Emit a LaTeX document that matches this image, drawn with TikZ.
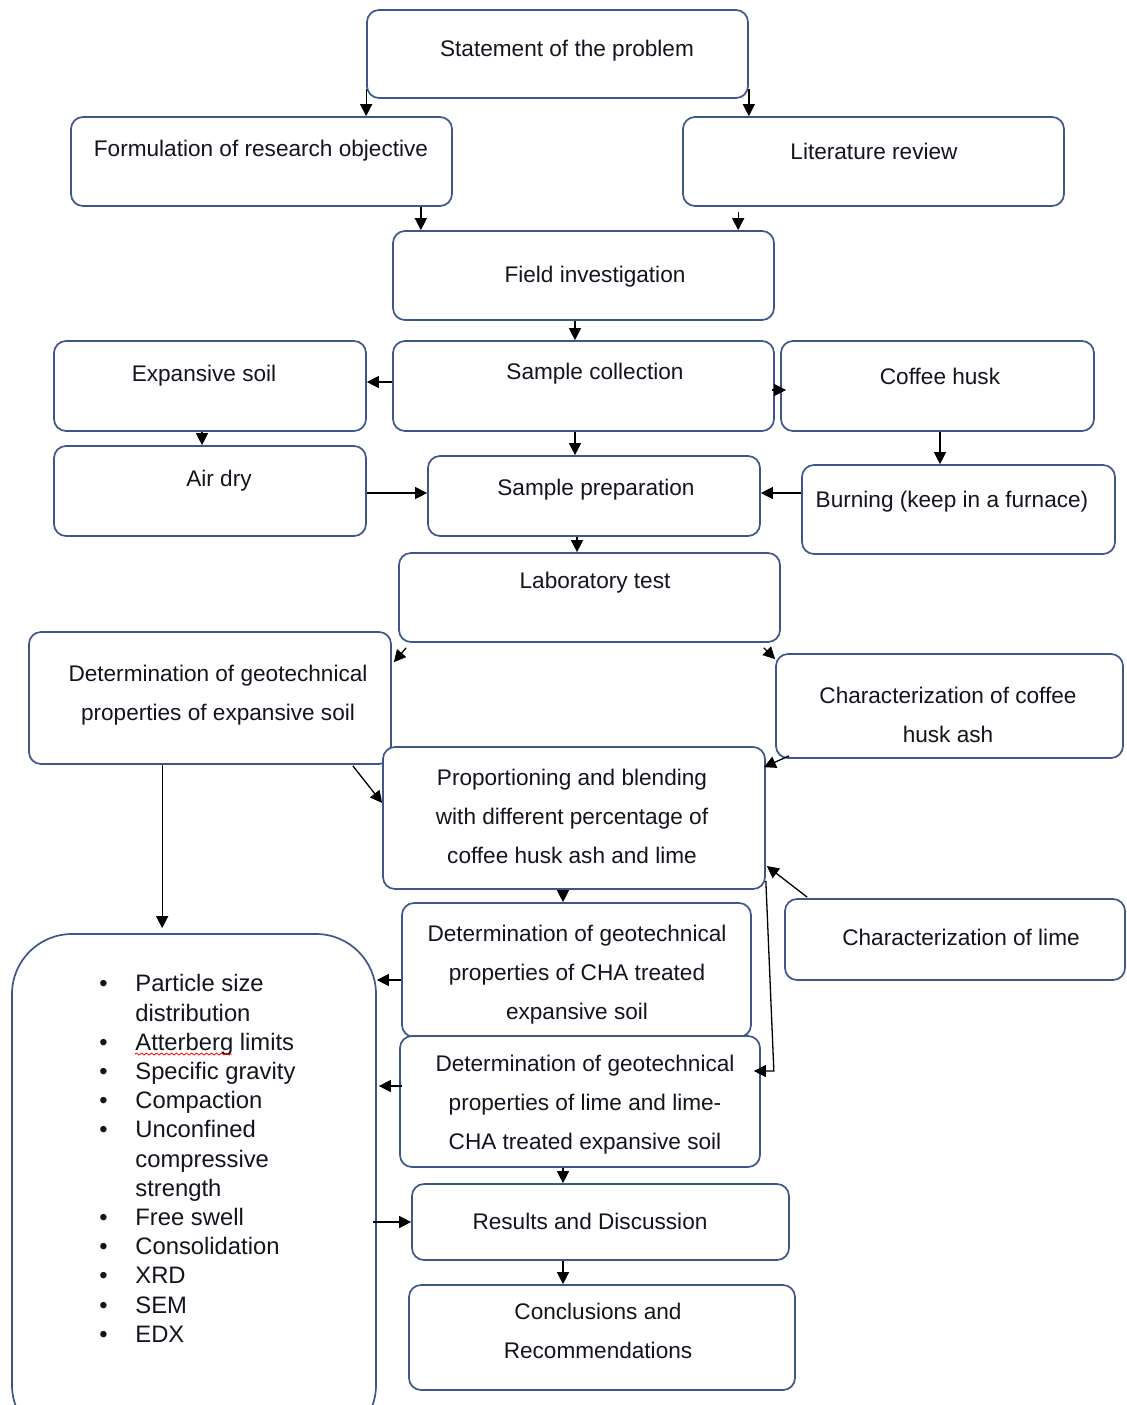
\documentclass[tikz,border=0pt]{standalone}
\usepackage{fontspec}
\setmainfont{Liberation Sans}
\usetikzlibrary{arrows.meta,calc,fit,decorations.pathmorphing}
\definecolor{boxc}{RGB}{62,86,138}
\definecolor{txtc}{RGB}{20,20,30}
\begin{document}
\begin{tikzpicture}[x=0.5pt,y=-0.5pt,
  box/.style={draw=boxc, line width=0.85pt, rounded corners=6pt, fill=white, inner sep=0pt},
  txt/.style={font=\fontsize{11.3}{19.5}\selectfont, text=txtc, align=center, inner sep=0pt},
  arr/.style={draw=black, line width=0.65pt, -{Triangle[length=6pt,width=6pt]}}]
\useasboundingbox (0,0) rectangle (1127,1405);
\clip (0,0) rectangle (1127,1405);

% boxes and texts
\node[box, fit={(367,10)(748,98)}] (stmt) {};
\node[txt] (tstmt) at (567,51) {Statement of the problem};
\node[box, fit={(71,117)(452,206)}] (form) {};
\node[txt] (tform) at (261,151) {Formulation of research objective};
\node[box, fit={(683,117)(1064,206)}] (lit) {};
\node[txt] (tlit) at (874,151) {Literature review};
\node[box, fit={(393,231)(774,320)}] (field) {};
\node[txt] (tfield) at (595,277) {Field investigation};
\node[box, fit={(54,341)(366,431)}] (exp) {};
\node[txt] (texp) at (204,376) {Expansive soil};
\node[box, fit={(393,341)(774,431)}] (sc) {};
\node[txt] (tsc) at (595,374) {Sample collection};
\node[box, fit={(781,341)(1094,431)}] (coffee) {};
\node[txt] (tcoffee) at (940,376) {Coffee husk};
\node[box, fit={(54,446)(366,536)}] (air) {};
\node[txt] (tair) at (219,481) {Air dry};
\node[box, fit={(428,456)(760,536)}] (sp) {};
\node[txt] (tsp) at (596,490) {Sample preparation};
\node[box, fit={(802,465)(1115,554)}] (burn) {};
\node[txt] (tburn) at (952,502) {Burning (keep in a furnace)};
\node[box, fit={(399,553)(780,642)}] (lab) {};
\node[txt] (tlab) at (595,583) {Laboratory test};
\node[box, fit={(29,632)(391,764)}] (dg) {};
\node[txt] (tdg) at (218,695) {Determination of geotechnical\\properties of expansive soil};
\node[box, fit={(776,654)(1123,758)}] (ccha) {};
\node[txt] (tccha) at (948,715) {Characterization of coffee\\husk ash};
\node[box, fit={(383,747)(765,889)}] (prop) {};
\node[txt] (tprop) at (572,816) {Proportioning and blending\\with different percentage of\\coffee husk ash and lime};
\node[box, fit={(785,899)(1125,980)}] (clime) {};
\node[txt] (tclime) at (961,937) {Characterization of lime};
\node[box, fit={(402,903)(751,1037)}] (cha) {};
\node[txt] (tcha) at (577,975) {Determination of geotechnical\\properties of CHA treated\\expansive soil};
\node[box, fit={(400,1036)(760,1167)}] (lime) {};
\node[txt] (tlime) at (585,1105) {Determination of geotechnical\\properties of lime and lime-\\CHA treated expansive soil};
\node[box, rounded corners=30pt, fit={(12,934)(376,1445)}] (bl) {};
\node[anchor=north west, inner sep=0pt, font=\fontsize{11.9}{14.6}\selectfont, text=txtc] (items) at (99,971) {%
\begin{tabular}{@{}p{18pt}@{}l@{}}
\textbullet & Particle size\\
 & distribution\\
\textbullet & Atterberg limits\\
\textbullet & Specific gravity\\
\textbullet & Compaction\\
\textbullet & Unconfined\\
 & compressive\\
 & strength\\
\textbullet & Free swell\\
\textbullet & Consolidation\\
\textbullet & XRD\\
\textbullet & SEM\\
\textbullet & EDX
\end{tabular}};
\draw[red, line width=0.4pt, decorate, decoration={snake, amplitude=0.5pt, segment length=2.5pt}] (135,1054) -- (232,1054);
\node[box, fit={(412,1184)(789,1260)}] (res) {};
\node[txt] (tres) at (590,1221) {Results and Discussion};
\node[box, fit={(409,1285)(795,1390)}] (conc) {};
\node[txt] (tconc) at (598,1331) {Conclusions and\\Recommendations};

% connectors
\draw[arr] ($(stmt.south west)+(0,-10)$) -- (stmt.south west |- form.north);
\draw[arr] ($(stmt.south east)+(0,-10)$) -- (stmt.south east |- lit.north);
\draw[arr] ($(form.south east)+(-32,0)$) coordinate (c1) -- (c1 |- field.north);
\draw[arr] ($(lit.south west)+(56,5)$) coordinate (c2) -- (c2 |- field.north);
\draw[arr] ($(field.south)+(-8.5,0)$) coordinate (c3) -- (c3 |- sc.north);
\draw[arr] ($(sc.west)+(0,-4)$) coordinate (c4) -- (exp.east |- c4);
\draw[arr] ($(sc.east)+(-3,4)$) -- ($(coffee.west)+(6,4)$);
\draw[arr] ($(exp.south)+(-8,0)$) coordinate (c5) -- (c5 |- air.north);
\draw[arr] ($(sc.south)+(-8.5,0)$) coordinate (c6) -- (c6 |- sp.north);
\draw[arr] ($(coffee.south)+(2.5,0)$) coordinate (c7) -- (c7 |- burn.north);
\draw[arr] ($(air.east)+(0,2)$) coordinate (c8) -- (sp.west |- c8);
\draw[arr] ($(burn.west)+(0,-16.5)$) coordinate (c9) -- (sp.east |- c9);
\draw[arr] ($(sp.south)+(-17,0)$) coordinate (c10) -- (c10 |- lab.north);
\draw[arr] ($(lab.south west)+(8,5)$) -- ($(dg.north east)+(2,31)$);
\draw[arr] ($(lab.south east)+(-17,5)$) -- ($(ccha.north west)+(0,6)$);
\draw[arr] ($(dg.south east)+(-39,1)$) -- ($(prop.west)+(0,-15)$);
\draw[arr] ($(ccha.south west)+(14,-3)$) -- ($(prop.north east)+(-2,21)$);
\draw[arr] ($(clime.north west)+(23,-1)$) -- ($(prop.east)+(1,48)$);
\draw[arr] ($(prop.south east)+(0,-9)$) -- ($(lime.east)+(13,-30.5)$) -- ($(lime.east)+(-7,-30.5)$);
\draw[arr] ($(prop.south)+(-11,0)$) coordinate (c11) -- (c11 |- cha.north);
\draw[arr] ($(dg.south west)+(134,0)$) coordinate (c12) -- ($(c12 |- bl.north)+(0,-5)$);
\draw[arr] ($(cha.west)+(0,10)$) coordinate (c13) -- (bl.east |- c13);
\draw[arr] ($(lime.west)+(3,-15.5)$) coordinate (c14) -- ($(bl.east |- c14)+(2,0)$);
\draw[arr] ($(bl.east |- res.west)+(-4,0)$) -- (res.west);
\draw[arr] ($(lime.south)+(-17,0)$) coordinate (c15) -- (c15 |- res.north);
\draw[arr] ($(res.south)+(-37.5,0)$) coordinate (c16) -- (c16 |- conc.north);
\end{tikzpicture}
\end{document}
